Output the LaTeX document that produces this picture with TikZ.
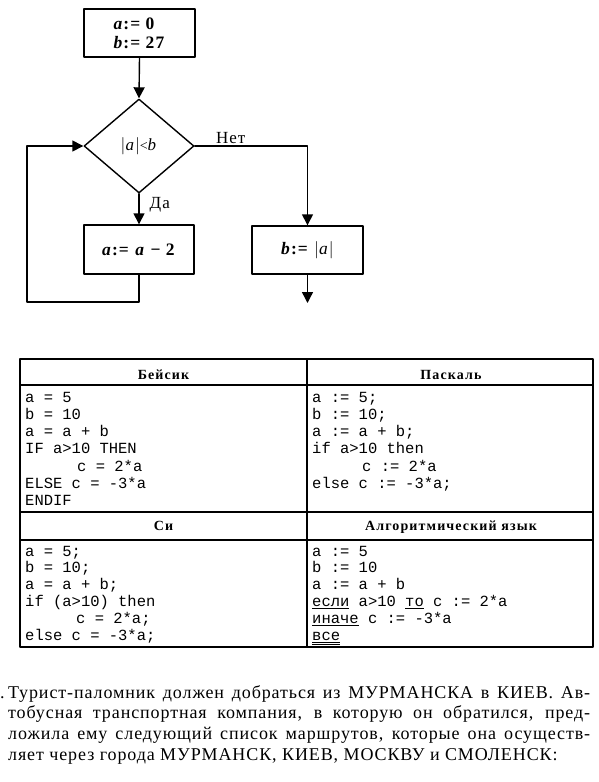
\documentclass[tikz,border=0pt]{standalone}
\usepackage{fontspec}
\setmainfont{Liberation Serif}
\setmonofont{Liberation Mono}
\newfontfamily\headfont[LetterSpace=8]{Liberation Serif}
\newfontfamily\flowfont[LetterSpace=6]{Liberation Serif}
\newfontfamily\bodyfont[LetterSpace=5]{Liberation Serif}
\usetikzlibrary{shapes.geometric,arrows.meta}

\newcommand{\fv}[1]{\textbf{\textit{#1}}}
\newcommand{\kw}[1]{\underline{\smash{#1}}}
\newcommand{\kwend}[1]{\underline{\underline{\smash{#1}}}}

\begin{document}
\begin{tikzpicture}[x=1pt,y=-1pt,line cap=round,line join=round,
  blk/.style={draw,line width=1.4pt,minimum width=111pt,minimum height=48pt,inner sep=0pt,
    font=\flowfont\fontsize{17.5}{19}\selectfont},
  cond/.style={draw,diamond,line width=1.4pt,minimum width=110pt,minimum height=94pt,inner sep=0pt,
    font=\flowfont\fontsize{17}{19}\selectfont},
  arr/.style={line width=1.4pt,-{Triangle[length=11pt,width=11pt]}},
  lbl/.style={font=\flowfont\fontsize{17}{18}\selectfont,inner sep=2pt},
  hdr/.style={font=\headfont\bfseries\fontsize{14}{15}\selectfont,inner sep=0pt},
  code/.style={font=\ttfamily\fontsize{15.5}{17}\selectfont,inner sep=0pt,anchor=base west}]
  \useasboundingbox (0,0) rectangle (598,782);

  % flowchart
  \node[blk,align=left] (init) at (139.5,33) {\fv{a}\textbf{:= 0}\\ \fv{b}\textbf{:= 27}};
  \node[cond] (test) at (139,146) {$|$\textit{a}$|${\fontsize{14}{14}\selectfont <}\textit{b}};
  \node[blk,minimum width=110pt,minimum height=49pt] (dec) at (139,249.5) {\fv{a}\textbf{:= }\fv{a}\textbf{ − 2}};
  \node[blk] (setb) at (307.5,250) {\fv{b}\textbf{:= }$|$\textit{a}$|$};
  \coordinate (lpb) at (27,302);
  \coordinate (outb) at (307.5,303);

  \draw[arr] (init.south) -- (test.north);
  \draw[arr] (test.south) -- node[lbl,anchor=west,pos=0.35,xshift=8pt] (yes) {Да} (dec.north);
  \draw[arr] (test.east) -| node[lbl,anchor=south,pos=0.16] (no) {Нет} (setb.north);
  \draw[arr] (dec.south) |- (lpb) |- (test.west);
  \draw[arr] (setb.south) -- (outb);

  % table
  \draw[line width=1.3pt] (20,359) rectangle (593,647);
  \draw[line width=1.1pt] (307,359) -- (307,647);
  \draw[line width=1.1pt] (20,385) -- (593,385);
  \draw[line width=1.3pt] (20,512) -- (593,512);
  \draw[line width=1.1pt] (20,540) -- (593,540);

  \node[hdr] (hbas) at (163.5,375) {Бейсик};
  \node[hdr] (hpas) at (451,375) {Паскаль};
  \node[hdr] (hsi) at (163.5,526) {Си};
  \node[hdr] (halg) at (451,527) {Алгоритмический язык};

  \foreach \txt [count=\i] in {a = 5,b = 10,a = a + b,IF a>10 THEN,
      {\hspace*{52pt}c = 2*a},ELSE c = -3*a,ENDIF}
    \node[code] (bas\i) at (25,{402+17.25*(\i-1)}) {\txt};
  \foreach \txt [count=\i] in {a := 5;,b := 10;,a := a + b;,if a>10 then,
      {\hspace*{50pt}c := 2*a},else c := -3*a;}
    \node[code] (pas\i) at (312,{402+17.25*(\i-1)}) {\txt};
  \foreach \txt [count=\i] in {a = 5;,b = 10;,a = a + b;,if (a>10) then,
      {\hspace*{51pt}c = 2*a;},else c = -3*a;}
    \node[code] (si\i) at (25,{556+16.9*(\i-1)}) {\txt};
  \foreach \txt [count=\i] in {a := 5,b := 10,a := a + b,
      {\kw{если} a>10 \kw{то} c := 2*a},{\kw{иначе} c := -3*a},{\kwend{все}}}
    \node[code] (alg\i) at (312,{556+16.9*(\i-1)}) {\txt};

  % task text
  \node[font=\bodyfont\fontsize{18}{20.8}\selectfont,inner sep=0pt,anchor=base west] (num) at (0,698) {.};
  \node[font=\bodyfont\fontsize{18}{20.8}\selectfont,inner sep=0pt,anchor=north west,
    text width=582pt,align=justify] (task) at (8,685)
    {\hyphenpenalty=10000\exhyphenpenalty=10000\tolerance=10000
     Турист-паломник должен добраться из МУРМАНСКА в КИЕВ. Ав-\linebreak
     тобусная транспортная компания, в которую он обратился, пред-\linebreak
     ложила ему следующий список маршрутов, которые она осуществ-\linebreak
     ляет через города МУРМАНСК, КИЕВ, МОСКВУ и СМОЛЕНСК:};
\end{tikzpicture}
\end{document}
